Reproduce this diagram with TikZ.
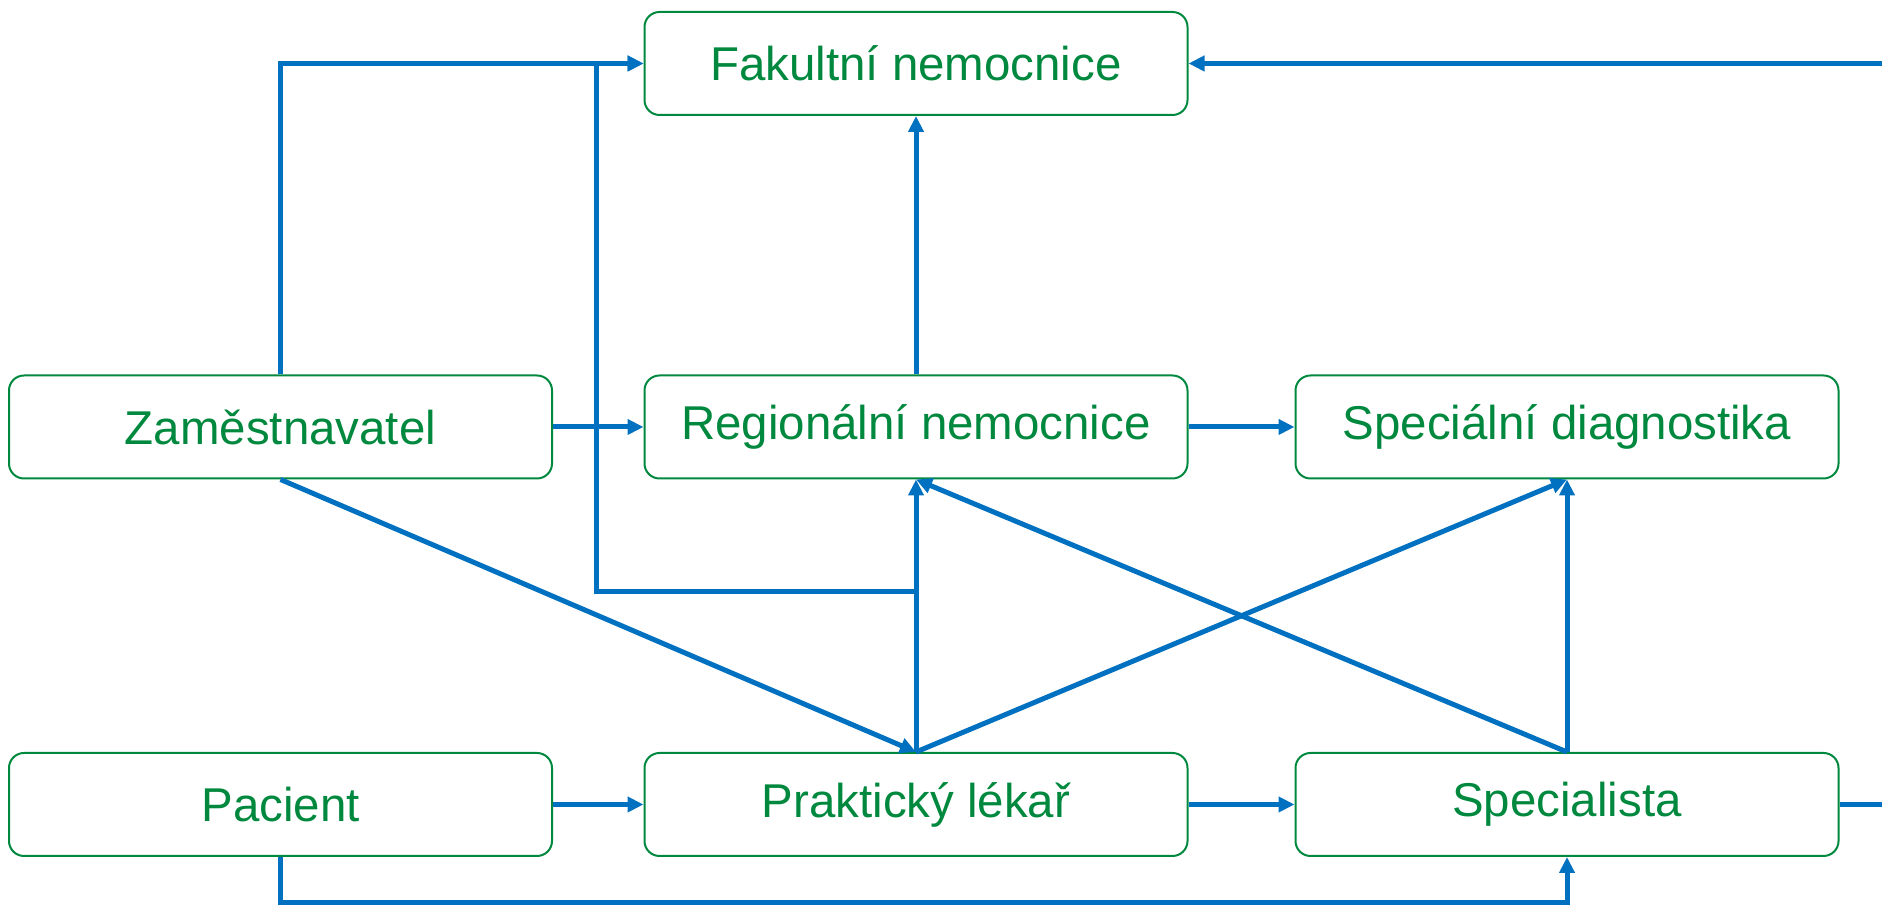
\documentclass[tikz,border=0pt]{standalone}
\usepackage{fontspec}
\setmainfont{Liberation Sans}
\usepackage{tikz}
\usetikzlibrary{positioning, arrows.meta}
\definecolor{boxgreen}{RGB}{0,137,62}
\definecolor{lineblue}{RGB}{0,112,192}

\begin{document}
\begin{tikzpicture}[
    box/.style={draw=boxgreen, line width=0.04cm, rounded corners=0.3cm, minimum width=10.86cm, minimum height=2.06cm, text=boxgreen, font=\fontsize{27}{32}\selectfont},
    arrow/.style={-{Triangle[length=0.32cm, width=0.3cm]}, line width=0.1cm, draw=lineblue}
]
\useasboundingbox (0,0) rectangle (37.64,18.14);
\clip (0,0) rectangle (37.64,18.14);

\node[box] (regional) at (18.32,9.6) {Regionální nemocnice};
\node[box, above=5.17cm of regional] (fakultni) {Fakultní nemocnice};
\node[box, left=1.81cm of regional] (zamestnavatel) {Zaměstnavatel};
\node[box, right=2.12cm of regional] (diagnostika) {Speciální diagnostika};
\node[box, below=5.45cm of regional] (prakticky) {Praktický lékař};
\node[box, left=1.81cm of prakticky] (pacient) {Pacient};
\node[box, right=2.12cm of prakticky] (specialista) {Specialista};

\coordinate (bend) at (11.92,6.3);

\draw[arrow] (zamestnavatel.north) |- (fakultni.west);
\draw[arrow] (prakticky.north) -- (prakticky.north |- bend) -- (bend) |- (fakultni.west);
\draw[arrow] (zamestnavatel) -- (regional);
\draw[arrow] (regional) -- (fakultni);
\draw[arrow] (regional) -- (diagnostika);
\draw[arrow] (zamestnavatel.south) -- (prakticky.north);
\draw[arrow] (prakticky.north) -- (regional.south);
\draw[arrow] (prakticky.north) -- (diagnostika.south);
\draw[arrow] (specialista.north) -- (regional.south);
\draw[arrow] (specialista.north) -- (diagnostika.south);
\draw[arrow] (pacient) -- (prakticky);
\draw[arrow] (prakticky) -- (specialista);
\draw[arrow] (pacient.south) -- ++(0,-0.92) -| (specialista.south);
\draw[arrow] (specialista.east) -- ++(1.5,0) |- (fakultni.east);
\end{tikzpicture}
\end{document}
